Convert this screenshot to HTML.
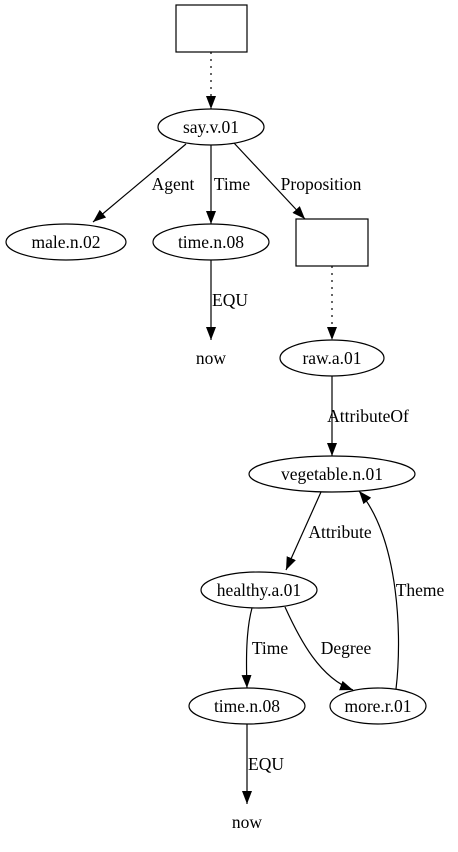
<!DOCTYPE html>
<html><head><meta charset="utf-8"><style>
html,body{margin:0;padding:0;background:#fff;}
svg{display:block;}
text{font-family:"Liberation Serif",serif;font-size:17.5px;fill:#000;}
</style></head><body>
<svg width="458" height="852" viewBox="0 0 458 852" xmlns="http://www.w3.org/2000/svg">
<defs>
<marker id="a" markerWidth="13" markerHeight="10" refX="13" refY="5" orient="auto" markerUnits="userSpaceOnUse">
<path d="M0,0 L13,5 L0,10 Z" fill="#000"/>
</marker>
</defs>
<g fill="none" stroke="#000" stroke-width="1.2">
<rect x="176" y="5" width="71" height="47"/>
<rect x="296" y="219" width="72" height="47"/>
<ellipse cx="211" cy="127" rx="53" ry="18"/>
<ellipse cx="66" cy="242" rx="60" ry="18"/>
<ellipse cx="211" cy="242" rx="58" ry="18"/>
<ellipse cx="332" cy="358" rx="52" ry="18"/>
<ellipse cx="332" cy="474" rx="83" ry="18"/>
<ellipse cx="259" cy="590" rx="58" ry="18"/>
<ellipse cx="247" cy="706" rx="58" ry="18"/>
<ellipse cx="378" cy="706" rx="48" ry="18"/>
<path d="M211,52 L211,109" stroke-dasharray="2,5" marker-end="url(#a)"/>
<path d="M332,266 L332,340" stroke-dasharray="2,5" marker-end="url(#a)"/>
<path d="M186,144 L93,222" marker-end="url(#a)"/>
<path d="M211,145 L211,224" marker-end="url(#a)"/>
<path d="M234,143 L305,219" marker-end="url(#a)"/>
<path d="M211,260 L211,340" marker-end="url(#a)"/>
<path d="M332,376 L332,456" marker-end="url(#a)"/>
<path d="M321,492 L286,570" marker-end="url(#a)"/>
<path d="M252,608 C246,630 246,660 247,688" marker-end="url(#a)"/>
<path d="M285,607 C300,640 320,678 353,690" marker-end="url(#a)"/>
<path d="M396,689 C402,640 400,540 359,491" marker-end="url(#a)"/>
<path d="M247,724 L247,804" marker-end="url(#a)"/>
</g>
<g text-anchor="middle">
<text x="211" y="133">say.v.01</text>
<text x="66" y="248">male.n.02</text>
<text x="211" y="248">time.n.08</text>
<text x="211" y="364">now</text>
<text x="332" y="364">raw.a.01</text>
<text x="332" y="480">vegetable.n.01</text>
<text x="259" y="596">healthy.a.01</text>
<text x="247" y="712">time.n.08</text>
<text x="378" y="712">more.r.01</text>
<text x="247" y="828">now</text>
<text x="173" y="190">Agent</text>
<text x="232" y="190">Time</text>
<text x="321" y="190">Proposition</text>
<text x="230" y="306">EQU</text>
<text x="368" y="422">AttributeOf</text>
<text x="340" y="538">Attribute</text>
<text x="270" y="654">Time</text>
<text x="346" y="654">Degree</text>
<text x="420" y="596">Theme</text>
<text x="266" y="770">EQU</text>
</g>
</svg>
</body></html>
